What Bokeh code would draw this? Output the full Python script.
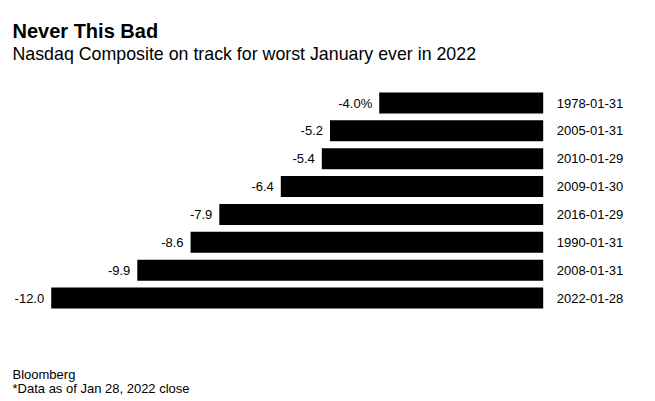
from bokeh.plotting import figure
from bokeh.models import ColumnDataSource, Range1d, Label
from bokeh.embed import file_html
from bokeh.resources import INLINE
from bokeh.core.properties import value

# ---- data ----
dates = ["1978-01-31", "2005-01-31", "2010-01-29", "2009-01-30",
         "2016-01-29", "1990-01-31", "2008-01-31", "2022-01-28"]
returns = [-4.0, -5.2, -5.4, -6.4, -7.9, -8.6, -9.9, -12.0]

title_text = "Never This Bad"
subtitle_text = "Nasdaq Composite on track for worst January ever in 2022"
source_text = "Bloomberg"
note_text = "*Data as of Jan 28, 2022 close"

FONT = "Liberation Sans"
W, H = 655, 401

labels = [f"{v:.1f}%" if i == 0 else f"{v:.1f}" for i, v in enumerate(returns)]
src = ColumnDataSource(dict(
    y=list(range(len(dates))),
    ret=returns,
    zero=[0.0] * len(dates),
    date=dates,
    lab=labels,
))

px_per_unit = 41.0
zero_px = 542.7
row_px = 27.86
first_row_px = 102.5

p = figure(width=W, height=H, output_backend="svg", toolbar_location=None,
           x_axis_location=None, y_axis_location=None,
           x_range=Range1d(-zero_px / px_per_unit, (W - zero_px) / px_per_unit),
           y_range=Range1d((H - first_row_px) / row_px, -first_row_px / row_px),
           min_border=0, min_border_left=0, min_border_right=0,
           min_border_top=0, min_border_bottom=0)
p.outline_line_color = None
p.grid.visible = False
p.background_fill_color = "white"
p.border_fill_color = "white"

p.hbar(y="y", left="ret", right="zero", height=0.754, source=src,
       fill_color="black", line_color=None)

p.text(x="ret", y="y", text="lab", source=src, x_offset=-7,
       text_align="right", text_baseline="middle",
       text_font=value(FONT), text_font_size="13px", text_color="black")
p.text(x="zero", y="y", text="date", source=src, x_offset=13.5,
       text_align="left", text_baseline="middle",
       text_font=value(FONT), text_font_size="13px", text_color="black")

p.add_layout(Label(x=12, y=H - 30, x_units="screen", y_units="screen",
                   text=title_text, text_font=FONT, text_font_size="20px",
                   text_font_style="bold", text_color="black",
                   text_baseline="alphabetic"))
p.add_layout(Label(x=12, y=H - 53.3, x_units="screen", y_units="screen",
                   text=subtitle_text, text_font=FONT, text_font_size="17.8px",
                   text_color="black", text_baseline="alphabetic"))
p.add_layout(Label(x=12, y=H - 374, x_units="screen", y_units="screen",
                   text=source_text, text_font=FONT, text_font_size="13px",
                   text_color="black", text_baseline="alphabetic"))
p.add_layout(Label(x=12, y=H - 388, x_units="screen", y_units="screen",
                   text=note_text, text_font=FONT, text_font_size="13px",
                   text_color="black", text_baseline="alphabetic"))

open("out.html", "w").write(file_html(p, INLINE))
